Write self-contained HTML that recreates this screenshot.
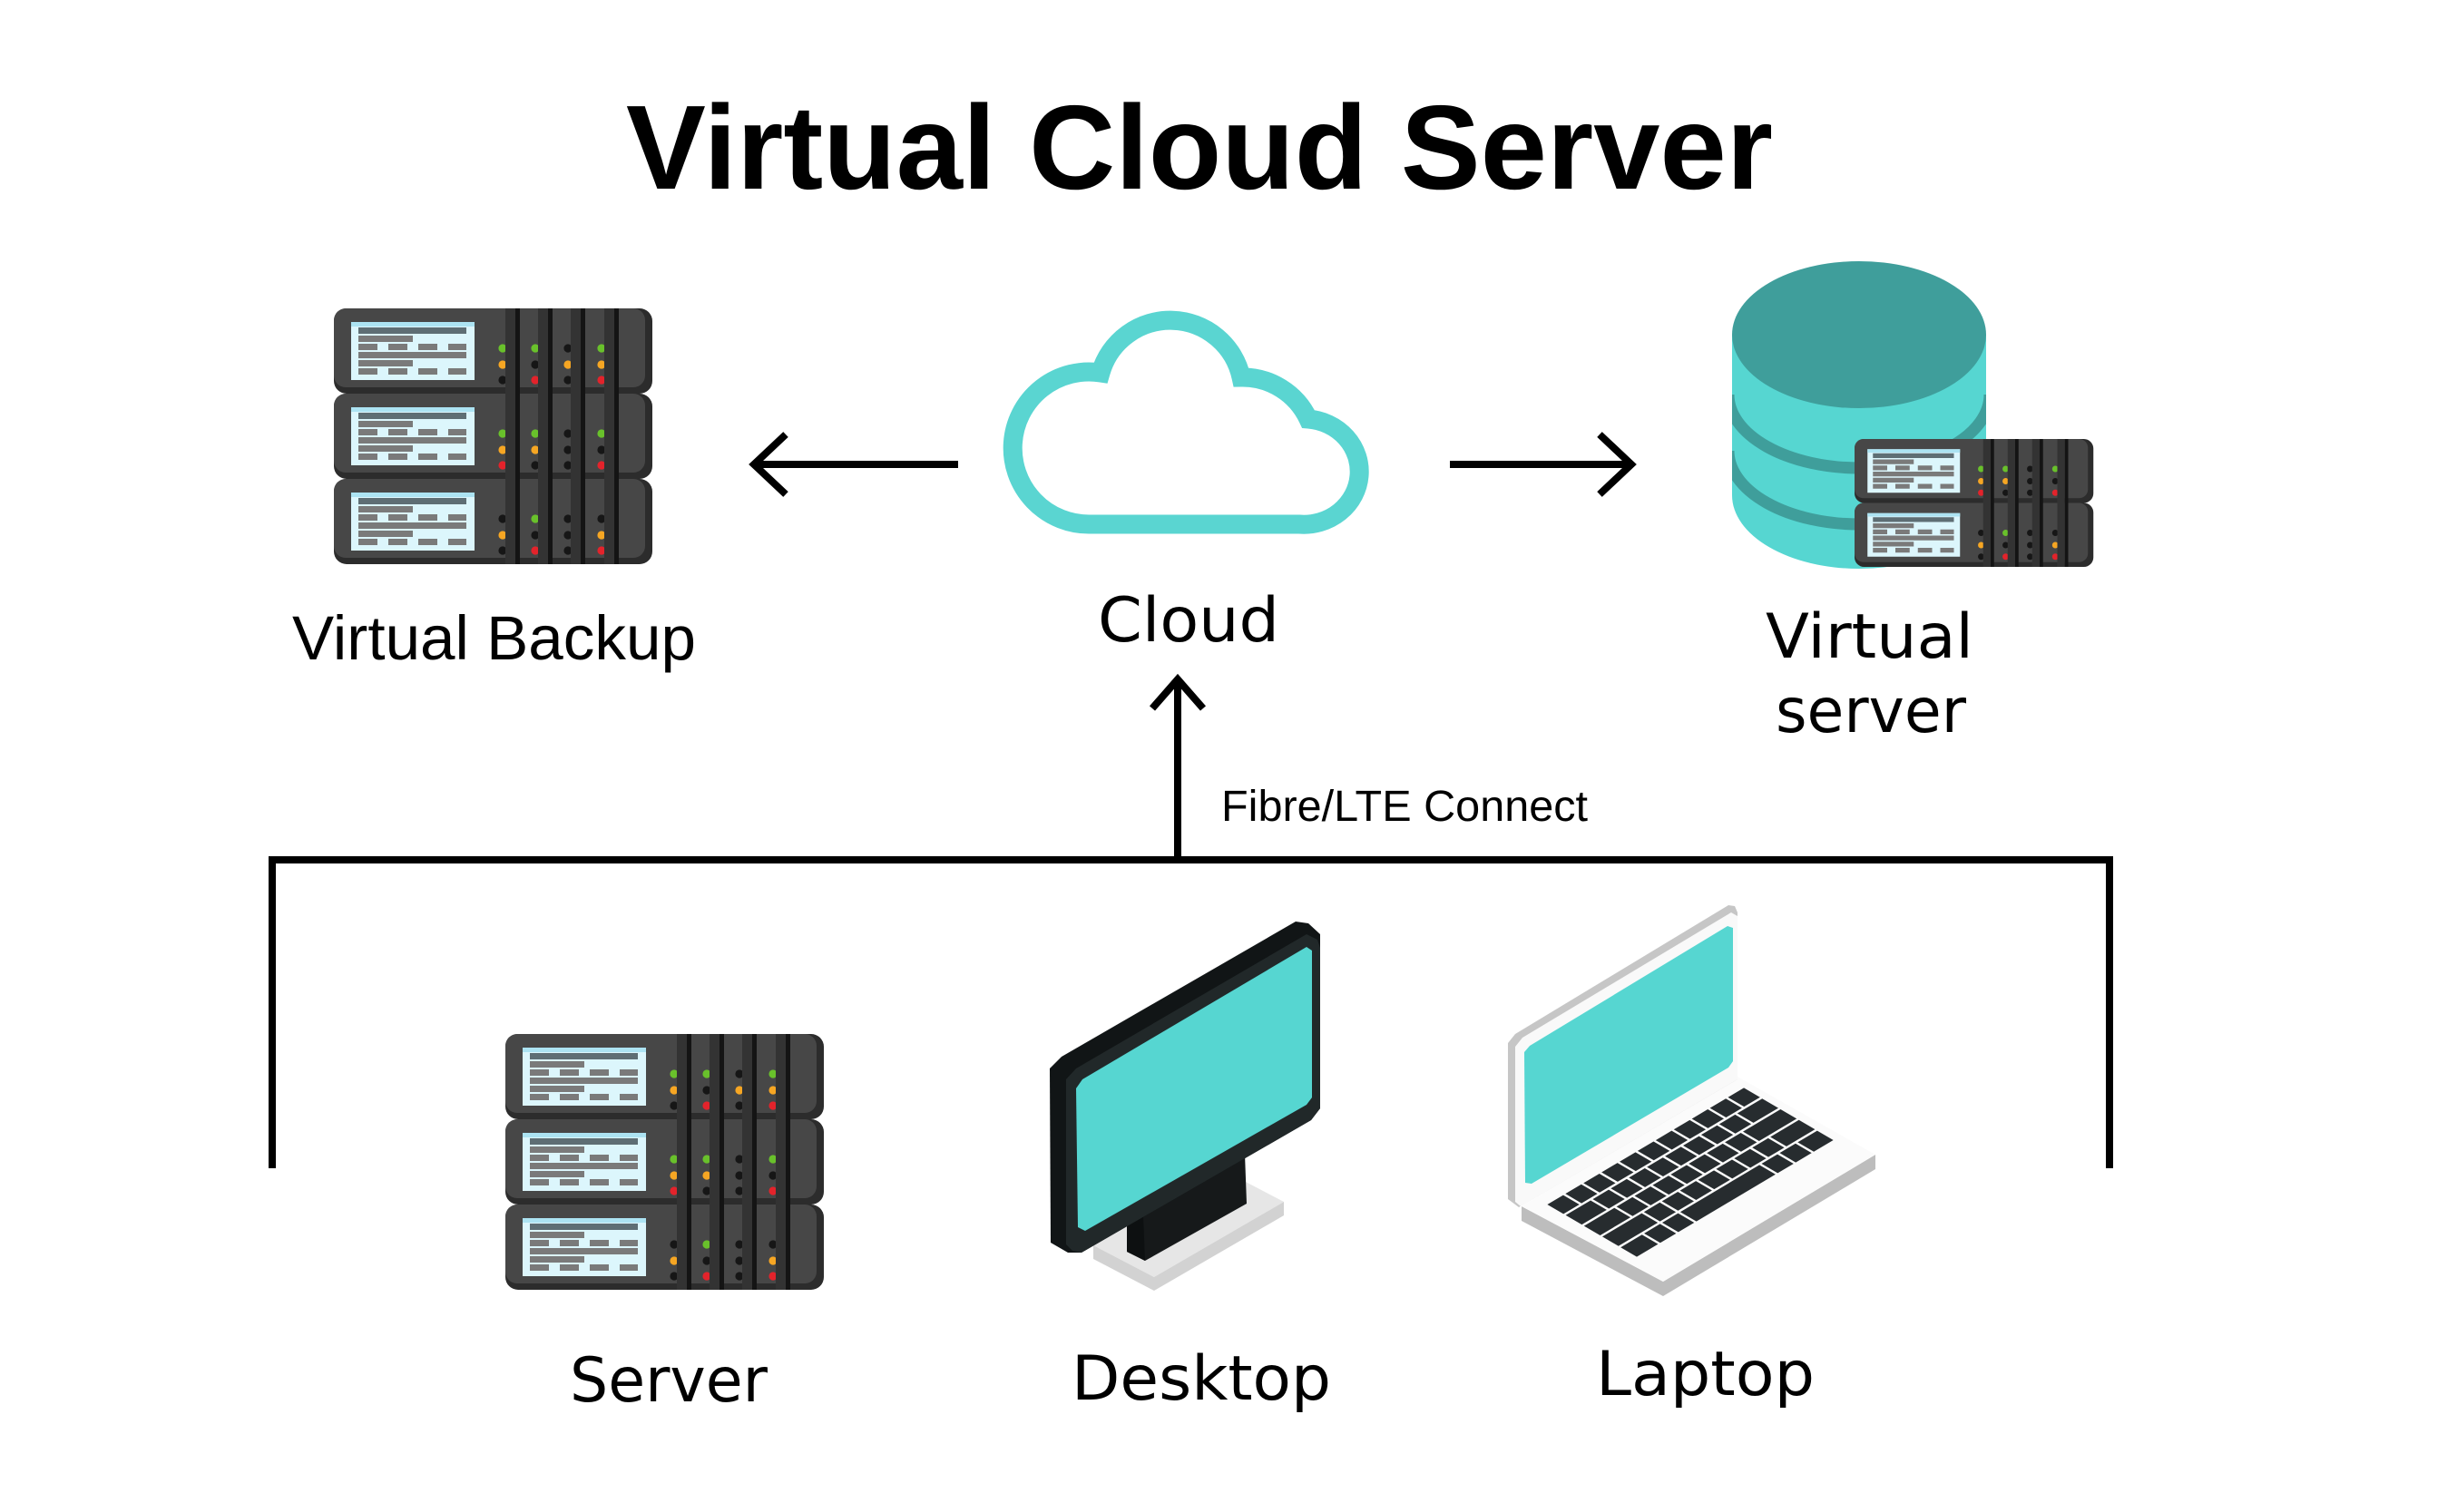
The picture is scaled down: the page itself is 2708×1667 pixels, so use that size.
<!DOCTYPE html>
<html>
<head>
<meta charset="utf-8">
<style>
html,body{margin:0;padding:0;background:#ffffff;}
svg{display:block;}
</style>
</head>
<body>
<svg xmlns="http://www.w3.org/2000/svg" xmlns:xlink="http://www.w3.org/1999/xlink" width="2708" height="1667" viewBox="0 0 2708 1667">
<defs>
  <clipPath id="cylClip">
    <path d="M1909,369 V546 A140,81 0 0 0 2189,546 V369 Z"/>
  </clipPath>
  <g id="su">
    <rect x="0" y="0" width="351" height="94" rx="14" fill="#2c2c2c"/>
    <rect x="0" y="0" width="343" height="87" rx="13" fill="#474747"/>
    <rect x="19" y="15" width="136" height="64" fill="#dcf6fc"/>
    <rect x="19" y="15" width="136" height="5" fill="#ace3f2"/>
    <rect x="27" y="21" width="119" height="7" fill="#5e6e74"/>
    <g fill="#7a7a7a">
      <rect x="27" y="30" width="60" height="7"/>
      <rect x="27" y="39" width="21" height="7"/>
      <rect x="60" y="39" width="21" height="7"/>
      <rect x="93" y="39" width="21" height="7"/>
      <rect x="126" y="39" width="20" height="7"/>
      <rect x="27" y="48" width="119" height="7"/>
      <rect x="27" y="57" width="60" height="7"/>
      <rect x="27" y="66" width="21" height="7"/>
      <rect x="60" y="66" width="21" height="7"/>
      <rect x="93" y="66" width="21" height="7"/>
      <rect x="126" y="66" width="20" height="7"/>
    </g>
  </g>
  <g id="bands">
    <rect x="189" y="0" width="11" height="94" fill="#333333"/>
    <rect x="200" y="0" width="5" height="94" fill="#141414"/>
    <rect x="225" y="0" width="11" height="94" fill="#333333"/>
    <rect x="236" y="0" width="5" height="94" fill="#141414"/>
    <rect x="261" y="0" width="11" height="94" fill="#333333"/>
    <rect x="272" y="0" width="5" height="94" fill="#141414"/>
    <rect x="298" y="0" width="11" height="94" fill="#333333"/>
    <rect x="309" y="0" width="5" height="94" fill="#141414"/>
  </g>
  <g id="ledA">
    <circle cx="186" cy="44" r="4.6" fill="#69c12b"/><circle cx="186" cy="62" r="4.6" fill="#f6a623"/><circle cx="186" cy="79" r="4.6" fill="#161616"/>
    <circle cx="222" cy="44" r="4.6" fill="#69c12b"/><circle cx="222" cy="62" r="4.6" fill="#161616"/><circle cx="222" cy="79" r="4.6" fill="#e3232b"/>
    <circle cx="258" cy="44" r="4.6" fill="#161616"/><circle cx="258" cy="62" r="4.6" fill="#f6a623"/><circle cx="258" cy="79" r="4.6" fill="#161616"/>
    <circle cx="295" cy="44" r="4.6" fill="#69c12b"/><circle cx="295" cy="62" r="4.6" fill="#f6a623"/><circle cx="295" cy="79" r="4.6" fill="#e3232b"/>
  </g>
  <g id="ledB">
    <circle cx="186" cy="44" r="4.6" fill="#69c12b"/><circle cx="186" cy="62" r="4.6" fill="#f6a623"/><circle cx="186" cy="79" r="4.6" fill="#e3232b"/>
    <circle cx="222" cy="44" r="4.6" fill="#69c12b"/><circle cx="222" cy="62" r="4.6" fill="#f6a623"/><circle cx="222" cy="79" r="4.6" fill="#161616"/>
    <circle cx="258" cy="44" r="4.6" fill="#161616"/><circle cx="258" cy="62" r="4.6" fill="#161616"/><circle cx="258" cy="79" r="4.6" fill="#161616"/>
    <circle cx="295" cy="44" r="4.6" fill="#69c12b"/><circle cx="295" cy="62" r="4.6" fill="#161616"/><circle cx="295" cy="79" r="4.6" fill="#e3232b"/>
  </g>
  <g id="ledC">
    <circle cx="186" cy="44" r="4.6" fill="#161616"/><circle cx="186" cy="62" r="4.6" fill="#f6a623"/><circle cx="186" cy="79" r="4.6" fill="#161616"/>
    <circle cx="222" cy="44" r="4.6" fill="#69c12b"/><circle cx="222" cy="62" r="4.6" fill="#161616"/><circle cx="222" cy="79" r="4.6" fill="#e3232b"/>
    <circle cx="258" cy="44" r="4.6" fill="#161616"/><circle cx="258" cy="62" r="4.6" fill="#161616"/><circle cx="258" cy="79" r="4.6" fill="#161616"/>
    <circle cx="295" cy="44" r="4.6" fill="#161616"/><circle cx="295" cy="62" r="4.6" fill="#f6a623"/><circle cx="295" cy="79" r="4.6" fill="#e3232b"/>
  </g>
  <g id="unitA"><use xlink:href="#su"/><use xlink:href="#ledA"/><use xlink:href="#bands"/></g>
  <g id="unitB"><use xlink:href="#su"/><use xlink:href="#ledB"/><use xlink:href="#bands"/></g>
  <g id="unitC"><use xlink:href="#su"/><use xlink:href="#ledC"/><use xlink:href="#bands"/></g>
  <g id="stack3">
    <use xlink:href="#unitA" transform="translate(0,0)"/>
    <use xlink:href="#unitB" transform="translate(0,94)"/>
    <use xlink:href="#unitC" transform="translate(0,188)"/>
  </g>
</defs>

<!-- Title -->
<text x="690" y="208" font-family="'Liberation Sans', sans-serif" font-weight="bold" font-size="132" textLength="1264" lengthAdjust="spacingAndGlyphs" fill="#000">Virtual Cloud Server</text>

<!-- Virtual Backup server stack -->
<use xlink:href="#stack3" transform="translate(368,340)"/>

<!-- Cloud -->
<path d="M1202,578 A84,84 0 1 1 1213,411 A80,80 0 0 1 1368,416 A80,80 0 0 1 1442,462 A61,58 0 0 1 1432,578 Z" fill="none" stroke="#5ad5d1" stroke-width="21" stroke-linejoin="miter"/>

<!-- Database cylinder -->
<path d="M1909,369 V546 A140,81 0 0 0 2189,546 V369 Z" fill="#56d6d1"/>
<g clip-path="url(#cylClip)">
  <path d="M1905,435 A144,81 0 0 0 2193,435" fill="none" stroke="#3f9e9b" stroke-width="13"/>
  <path d="M1905,497 A144,81 0 0 0 2193,497" fill="none" stroke="#3f9e9b" stroke-width="13"/>
</g>
<ellipse cx="2049" cy="369" rx="140" ry="81" fill="#3f9e9b"/>
<!-- Mini servers -->
<g transform="translate(2044,484) scale(0.75)">
  <use xlink:href="#unitB" transform="translate(0,0)"/>
  <use xlink:href="#unitC" transform="translate(0,94)"/>
</g>

<!-- Arrows -->
<g stroke="#000" stroke-width="8" fill="none" stroke-linejoin="miter" stroke-linecap="butt">
  <path d="M1056,512 H834"/>
  <path d="M866,479 L831,512 L866,545"/>
  <path d="M1598,512 H1794"/>
  <path d="M1763,479 L1798,512 L1763,545"/>
  <path d="M1298,948 V752"/>
  <path d="M1270,781 L1298,749 L1326,781"/>
  <path d="M300,1288 V948 H2325 V1288"/>
</g>

<!-- Labels -->
<text x="322" y="727" font-family="'Liberation Sans', sans-serif" font-size="69" textLength="445" lengthAdjust="spacingAndGlyphs" fill="#000">Virtual Backup</text>
<text x="1210" y="707" font-family="'DejaVu Sans', sans-serif" font-size="68" textLength="200" lengthAdjust="spacingAndGlyphs" fill="#000">Cloud</text>
<text x="1946" y="725" font-family="'DejaVu Sans', sans-serif" font-size="68" textLength="229" lengthAdjust="spacingAndGlyphs" fill="#000">Virtual</text>
<text x="1957" y="807" font-family="'DejaVu Sans', sans-serif" font-size="68" textLength="210" lengthAdjust="spacingAndGlyphs" fill="#000">server</text>
<text x="1346" y="905" font-family="'Liberation Sans', sans-serif" font-size="48" textLength="404" lengthAdjust="spacingAndGlyphs" fill="#000">Fibre/LTE Connect</text>

<!-- Bottom server stack -->
<use xlink:href="#stack3" transform="translate(557,1140)"/>

<!-- Desktop -->
<polygon points="1205,1373 1348,1290 1415,1325 1272,1408" fill="#e6e6e6"/>
<polygon points="1205,1373 1272,1408 1415,1325 1415,1340 1272,1423 1205,1388" fill="#d2d2d2"/>
<polygon points="1242,1345 1372,1272 1374,1327 1262,1390 1242,1380" fill="#16191a"/>
<polygon points="1242,1345 1260,1340 1262,1390 1242,1380" fill="#0d1011"/>
<polygon points="1157,1178 1170,1165 1428,1016 1442,1018 1455,1030 1455,1222 1445,1235 1192,1381 1177,1381 1158,1370" fill="#111516"/>
<polygon points="1175,1190 1186,1178 1440,1030 1452,1036 1455,1045 1455,1222 1445,1235 1192,1381 1182,1379 1175,1372" fill="#212829"/>
<polygon points="1186,1200 1193,1190 1440,1044 1446,1048 1446,1210 1440,1218 1196,1357 1188,1353" fill="#56d6d1"/>

<!-- Laptop -->
<polygon points="1677,1330 1833,1413 2067,1273 2067,1289 1833,1429 1677,1346" fill="#bdbdbd"/>
<polygon points="1677,1330 1915,1187 2067,1273 1833,1413" fill="#fbfbfb"/>
<polygon points="1662,1150 1670,1140 1905,998 1912,999 1915,1006 1915,1190 1674,1331 1662,1322" fill="#c6c6c6"/>
<polygon points="1670,1154 1678,1144 1908,1006 1915,1010 1915,1190 1676,1330 1670,1325" fill="#f9f9f9"/>
<polygon points="1680,1160 1686,1153 1904,1021 1910,1023 1910,1170 1905,1177 1688,1305 1681,1304" fill="#56d6d1"/>
<g transform="matrix(19.91,-11.82,20.2,11.8,1703,1328)" fill="#272c2f">
  <rect x="0.06" y="0.06" width="0.88" height="0.88"/>
  <rect x="1.06" y="0.06" width="0.88" height="0.88"/>
  <rect x="2.06" y="0.06" width="0.88" height="0.88"/>
  <rect x="3.06" y="0.06" width="0.88" height="0.88"/>
  <rect x="4.06" y="0.06" width="0.88" height="0.88"/>
  <rect x="5.06" y="0.06" width="0.88" height="0.88"/>
  <rect x="6.06" y="0.06" width="0.88" height="0.88"/>
  <rect x="7.06" y="0.06" width="0.88" height="0.88"/>
  <rect x="8.06" y="0.06" width="0.88" height="0.88"/>
  <rect x="9.06" y="0.06" width="0.88" height="0.88"/>
  <rect x="10.06" y="0.06" width="0.88" height="0.88"/>
  <rect x="0.06" y="1.06" width="1.38" height="0.88"/>
  <rect x="1.56" y="1.06" width="0.88" height="0.88"/>
  <rect x="2.56" y="1.06" width="0.88" height="0.88"/>
  <rect x="3.56" y="1.06" width="0.88" height="0.88"/>
  <rect x="4.56" y="1.06" width="0.88" height="0.88"/>
  <rect x="5.56" y="1.06" width="0.88" height="0.88"/>
  <rect x="6.56" y="1.06" width="0.88" height="0.88"/>
  <rect x="7.56" y="1.06" width="0.88" height="0.88"/>
  <rect x="8.56" y="1.06" width="0.88" height="0.88"/>
  <rect x="9.56" y="1.06" width="1.38" height="0.88"/>
  <rect x="0.06" y="2.06" width="1.68" height="0.88"/>
  <rect x="1.86" y="2.06" width="0.88" height="0.88"/>
  <rect x="2.86" y="2.06" width="0.88" height="0.88"/>
  <rect x="3.86" y="2.06" width="0.88" height="0.88"/>
  <rect x="4.86" y="2.06" width="0.88" height="0.88"/>
  <rect x="5.86" y="2.06" width="0.88" height="0.88"/>
  <rect x="6.86" y="2.06" width="0.88" height="0.88"/>
  <rect x="7.86" y="2.06" width="0.88" height="0.88"/>
  <rect x="8.86" y="2.06" width="2.08" height="0.88"/>
  <rect x="0.06" y="3.06" width="2.18" height="0.88"/>
  <rect x="2.36" y="3.06" width="0.88" height="0.88"/>
  <rect x="3.36" y="3.06" width="0.88" height="0.88"/>
  <rect x="4.36" y="3.06" width="0.88" height="0.88"/>
  <rect x="5.36" y="3.06" width="0.88" height="0.88"/>
  <rect x="6.36" y="3.06" width="0.88" height="0.88"/>
  <rect x="7.36" y="3.06" width="0.88" height="0.88"/>
  <rect x="8.36" y="3.06" width="0.88" height="0.88"/>
  <rect x="9.36" y="3.06" width="1.58" height="0.88"/>
  <rect x="0.06" y="4.06" width="1.18" height="0.88"/>
  <rect x="1.36" y="4.06" width="0.88" height="0.88"/>
  <rect x="2.36" y="4.06" width="0.88" height="0.88"/>
  <rect x="3.36" y="4.06" width="4.38" height="0.88"/>
  <rect x="7.86" y="4.06" width="0.88" height="0.88"/>
  <rect x="8.86" y="4.06" width="0.88" height="0.88"/>
  <rect x="9.86" y="4.06" width="1.08" height="0.88"/>
</g>

<!-- Bottom labels -->
<text x="628" y="1545" font-family="'DejaVu Sans', sans-serif" font-size="68" textLength="218" lengthAdjust="spacingAndGlyphs" fill="#000">Server</text>
<text x="1181" y="1543" font-family="'DejaVu Sans', sans-serif" font-size="68" textLength="286" lengthAdjust="spacingAndGlyphs" fill="#000">Desktop</text>
<text x="1759" y="1538" font-family="'DejaVu Sans', sans-serif" font-size="68" textLength="241" lengthAdjust="spacingAndGlyphs" fill="#000">Laptop</text>
</svg>
</body>
</html>
